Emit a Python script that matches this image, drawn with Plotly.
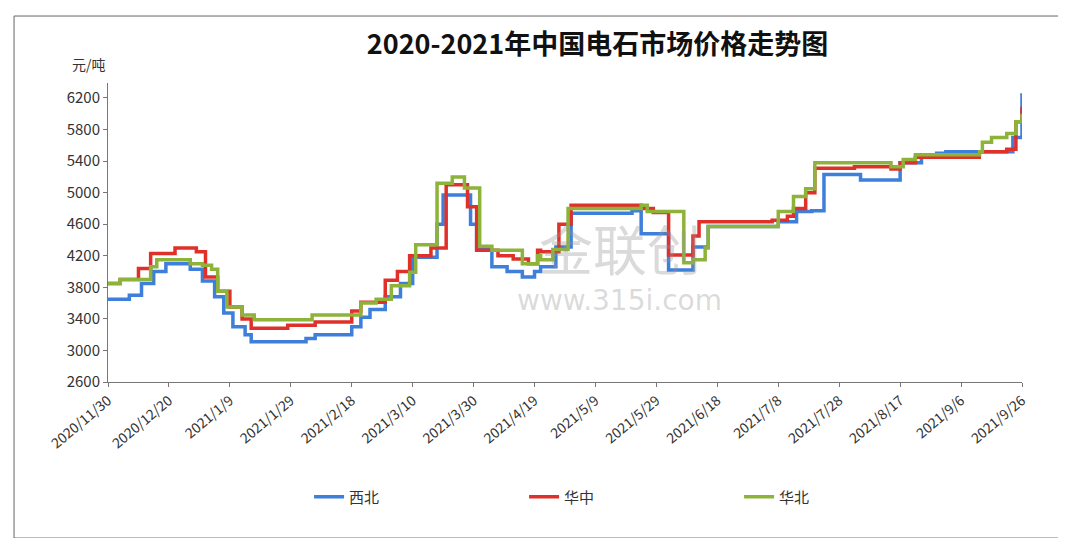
import pandas as pd
import plotly.graph_objects as go

start = pd.Timestamp("2020-11-30")

# step breakpoints: day offset from 2020/11/30, price (元/吨)
xb_days = [0, 7, 11, 15, 19, 25, 27, 31, 35, 38, 41, 45, 47, 65, 68, 80, 83, 86, 91, 96, 100, 106, 108, 110,
           117, 119, 121, 126, 131, 136, 140, 142, 147, 152, 168, 172, 175, 184, 189, 192, 197, 220, 226, 231,
           235, 247, 260, 267, 272, 275, 295, 297, 300]
xb_vals = [3650, 3700, 3850, 4000, 4100, 4100, 4030, 3880, 3680, 3475, 3300, 3200, 3110, 3150, 3200, 3300, 3420,
           3520, 3680, 3850, 4180, 4180, 4600, 4970, 4970, 4600, 4280, 4060, 4000, 3930, 4000, 4060, 4310, 4740,
           4740, 4770, 4480, 4020, 4020, 4310, 4570, 4630, 4760, 4770, 5230, 5160, 5380, 5450, 5500, 5520, 5520,
           5700, 6260]

hz_days = [0, 4, 10, 14, 22, 29, 32, 36, 40, 44, 47, 59, 68, 80, 83, 91, 95, 99, 106, 111, 115, 118, 121, 128,
           133, 138, 141, 142, 148, 152, 175, 179, 184, 189, 192, 194, 218, 223, 225, 229, 232, 245, 257, 260,
           265, 286, 295, 298, 300]
hz_vals = [3850, 3900, 4040, 4230, 4300, 4250, 3930, 3750, 3550, 3400, 3280, 3320, 3360, 3500, 3610, 3890, 4000,
           4200, 4300, 5100, 5100, 4820, 4270, 4200, 4160, 4100, 4270, 4250, 4600, 4840, 4800, 4750, 4210, 4210,
           4450, 4630, 4650, 4700, 4800, 5000, 5310, 5330, 5300, 5380, 5450, 5520, 5550, 5900, 6090]

hb_days = [0, 4, 14, 16, 24, 27, 31, 34, 36, 39, 44, 48, 67, 80, 83, 88, 93, 99, 101, 106, 108, 113, 117, 119,
           122, 126, 136, 141, 142, 146, 151, 175, 177, 184, 189, 192, 196, 197, 220, 225, 229, 232, 247, 257,
           261, 265, 286, 287, 290, 295, 298, 300]
hb_vals = [3850, 3900, 4060, 4150, 4150, 4100, 4080, 4030, 3750, 3550, 3450, 3390, 3450, 3450, 3600, 3650, 3820,
           3990, 4340, 4340, 5120, 5200, 5060, 5060, 4320, 4270, 4100, 4200, 4150, 4280, 4800, 4840, 4760, 4760,
           4110, 4150, 4300, 4570, 4760, 4950, 5050, 5380, 5380, 5330, 5420, 5480, 5520, 5640, 5700, 5750, 5900,
           6000]

tick_days = list(range(0, 301, 20))
tick_labels = ["2020/11/30", "2020/12/20", "2021/1/9", "2021/1/29", "2021/2/18", "2021/3/10", "2021/3/30",
               "2021/4/19", "2021/5/9", "2021/5/29", "2021/6/18", "2021/7/8", "2021/7/28", "2021/8/17",
               "2021/9/6", "2021/9/26"]
y_ticks = [2600, 3000, 3400, 3800, 4200, 4600, 5000, 5400, 5800, 6200]

font = "Noto Sans CJK SC"


def to_dates(days):
    return [start + pd.Timedelta(days=d) for d in days]


fig = go.Figure()
for name, days, vals, color in [("西北", xb_days, xb_vals, "#3d7fdb"),
                                ("华中", hz_days, hz_vals, "#e0302a"),
                                ("华北", hb_days, hb_vals, "#8db33a")]:
    fig.add_trace(go.Scatter(x=to_dates(days), y=vals, mode="lines", name=name,
                             line=dict(color=color, width=3.5, shape="hv")))

# watermark
fig.add_annotation(text="金联创", x=0.56, y=0.45, xref="paper", yref="paper", showarrow=False,
                   font=dict(family=font, size=54, color="rgba(150,150,150,0.35)"))
fig.add_annotation(text="www.315i.com", x=0.56, y=0.21, xref="paper", yref="paper", showarrow=False,
                   font=dict(family="DejaVu Sans", size=28, color="rgba(150,150,150,0.35)"))

fig.add_annotation(text="元/吨", x=-0.042, y=1.104, xref="paper", yref="paper", showarrow=False,
                   font=dict(family=font, size=14, color="#333"))

# outer frame
fig.add_shape(type="rect", xref="paper", yref="paper", x0=-0.1028, x1=1.046, y0=-0.522, y1=1.224,
              line=dict(color="#666", width=1))

fig.update_layout(
    width=1066, height=538,
    margin=dict(l=100, r=52, t=75, b=164),
    paper_bgcolor="white", plot_bgcolor="white",
    title=dict(text="<b>2020-2021年中国电石市场价格走势图</b>", x=0.553, y=1 - 37 / 538, xanchor="center",
               yanchor="middle", font=dict(family=font, size=27, color="#111")),
    font=dict(family=font, size=14, color="#333"),
    legend=dict(orientation="h", x=0.22, xanchor="left", y=-0.385, yanchor="middle",
                font=dict(size=15), entrywidth=170, entrywidthmode="pixels"),
    showlegend=True,
)
fig.update_xaxes(range=[start, start + pd.Timedelta(days=300)], tickvals=to_dates(tick_days),
                 ticktext=tick_labels, tickangle=-40, showgrid=False, showline=True, linecolor="#777",
                 ticks="outside", ticklen=4, tickcolor="#777", tickfont=dict(size=14), automargin=False)
fig.update_yaxes(range=[2600, 6390], tickvals=y_ticks, showgrid=False, showline=True, linecolor="#777",
                 ticks="outside", ticklen=4, tickcolor="#777", tickfont=dict(size=15), zeroline=False,
                 automargin=False)

fig.write_html("out.html")
